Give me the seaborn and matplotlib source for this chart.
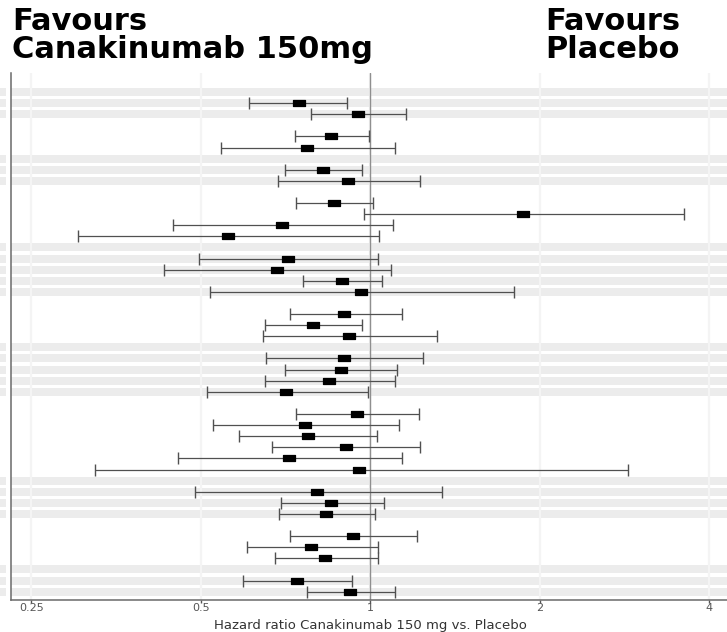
import numpy as np
import pandas as pd
import matplotlib
matplotlib.use("Agg")
import matplotlib.pyplot as plt
import matplotlib.transforms as mtransforms
from matplotlib.patches import Rectangle
from matplotlib.path import Path
from matplotlib.ticker import NullLocator, FixedLocator, FixedFormatter
import seaborn as sns

# ---------------- data ----------------
# number of level rows in each subgroup block (each block also has one header row)
group_sizes = [2, 2, 2, 4, 4, 3, 4, 6, 3, 3, 2]

hazard_ratio = [0.746, 0.951, 0.851, 0.772, 0.826, 0.914, 0.861, 1.868, 0.696, 0.558,
                0.715, 0.684, 0.892, 0.964, 0.898, 0.790, 0.918, 0.897, 0.887, 0.846,
                0.710, 0.947, 0.767, 0.774, 0.904, 0.716, 0.957, 0.804, 0.852, 0.836,
                0.932, 0.786, 0.831, 0.741, 0.921]
ci_lower = [0.608, 0.786, 0.735, 0.543, 0.705, 0.687, 0.739, 0.976, 0.446, 0.303,
            0.497, 0.431, 0.759, 0.520, 0.719, 0.651, 0.645, 0.654, 0.707, 0.649,
            0.512, 0.739, 0.525, 0.584, 0.670, 0.455, 0.324, 0.488, 0.694, 0.688,
            0.720, 0.603, 0.677, 0.595, 0.773]
ci_upper = [0.910, 1.157, 0.995, 1.106, 0.968, 1.228, 1.012, 3.600, 1.097, 1.036,
            1.032, 1.088, 1.050, 1.799, 1.138, 0.968, 1.316, 1.243, 1.116, 1.107,
            0.989, 1.221, 1.126, 1.029, 1.226, 1.138, 2.864, 1.341, 1.056, 1.021,
            1.210, 1.032, 1.032, 0.930, 1.106]

tick_values = [0.25, 0.5, 1, 2, 4]
tick_labels = ["0.25", "0.5", "1", "2", "4"]
x_label = "Hazard ratio Canakinumab 150 mg vs. Placebo"
left_title = ["Favours", "Canakinumab 150mg"]
right_title = ["Favours", "Placebo"]

# ---------------- layout of rows ----------------
row_of_point, group_of_point, band_rows = [], [], []
r = 0
for g, n in enumerate(group_sizes):
    block = list(range(r, r + n + 1))
    if g % 2 == 0:
        band_rows.extend(block)
    r += 1
    for _ in range(n):
        row_of_point.append(r)
        group_of_point.append(g)
        r += 1
n_rows = r

df = pd.DataFrame({"row": row_of_point, "group": group_of_point,
                   "hr": hazard_ratio, "lo": ci_lower, "hi": ci_upper})

# ---------------- figure ----------------
sns.set_theme(style="white")
plt.rcParams["font.family"] = ["DejaVu Sans"]

W, H = 727, 632
fig = plt.figure(figsize=(W / 100, H / 100), dpi=100)
ax = fig.add_axes([11 / W, 32 / H, (W - 11) / W, (600 - 73) / H])

ax.set_xscale("log", base=2)
ax.set_xlim(0.2302, 4.30)
ax.set_ylim(45.75, -1.71)

# alternating grey bands
band_color = "#ececec"
half = 0.36
blend = mtransforms.blended_transform_factory(ax.transAxes, ax.transData)
for br in band_rows:
    ax.axhspan(br - half, br + half, color=band_color, lw=0, zorder=0)
    ax.add_patch(Rectangle((-11 / (W - 11), br - half), 6 / (W - 11), 2 * half,
                           transform=blend, clip_on=False, color=band_color, lw=0))

# grid + reference line
ax.set_axisbelow(True)
ax.xaxis.set_major_locator(FixedLocator(tick_values))
ax.xaxis.set_major_formatter(FixedFormatter(tick_labels))
ax.xaxis.set_minor_locator(NullLocator())
ax.grid(axis="x", which="major", color="#f4f4f4", lw=1.6)
ax.grid(axis="y", visible=False)
ax.axvline(1, color="#8f8f8f", lw=1.0, zorder=1)

# confidence intervals
ax.errorbar(df["hr"], df["row"],
            xerr=[df["hr"] - df["lo"], df["hi"] - df["hr"]],
            fmt="none", ecolor="#505050", elinewidth=0.9,
            capsize=4.2, capthick=1.0, zorder=2)

# point estimates (wide rectangles)
rect = Path([(-1, -0.55), (1, -0.55), (1, 0.55), (-1, 0.55), (-1, -0.55)],
            [Path.MOVETO, Path.LINETO, Path.LINETO, Path.LINETO, Path.CLOSEPOLY])
sns.scatterplot(data=df, x="hr", y="row", marker=rect, s=66, color="black",
                edgecolor="black", linewidth=0.9, zorder=3, ax=ax, legend=False)

# axes styling
ax.set_yticks([])
ax.set_xlabel("")
ax.set_ylabel("")
for side in ["top", "right"]:
    ax.spines[side].set_visible(False)
for side in ["left", "bottom"]:
    ax.spines[side].set_color("#6a6a6a")
    ax.spines[side].set_linewidth(1.1)
ax.tick_params(axis="x", which="major", bottom=True, length=2.2, width=1.0,
               color="#555555", labelsize=8, labelcolor="#555555", pad=0.3)

# x label
fig.text(370 / W, 1 - 628.8 / H, x_label, ha="center", va="baseline",
         fontsize=9.5, color="#333333")

# headings
title_kw = dict(fontsize=22, fontweight="bold", color="black", va="baseline", ha="left")
fig.text(12 / W, 1 - 30 / H, left_title[0], **title_kw)
fig.text(12 / W, 1 - 58 / H, left_title[1], **title_kw)
fig.text(545 / W, 1 - 30 / H, right_title[0], **title_kw)
fig.text(545 / W, 1 - 58 / H, right_title[1], **title_kw)

fig.savefig("out.png", dpi=100)
